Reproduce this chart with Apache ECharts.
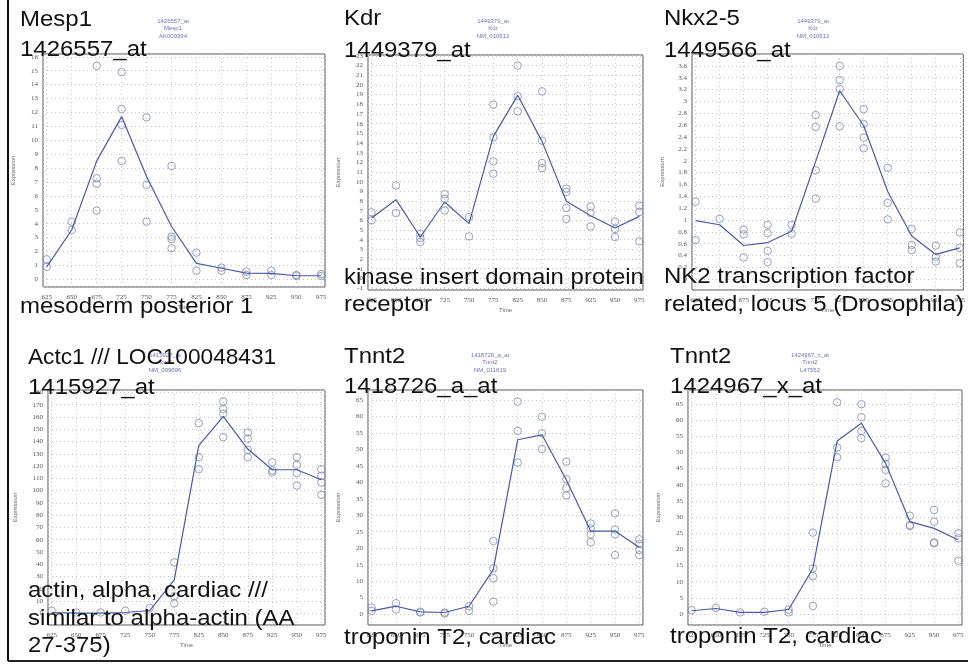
<!DOCTYPE html>
<html><head><meta charset="utf-8">
<script src="https://cdn.jsdelivr.net/npm/echarts@6/dist/echarts.min.js"></script>
<style>html,body{margin:0;padding:0;background:#fff}#c{width:968px;height:665px}</style>
</head><body><div id="c"></div><script>
// ---- data ----
const times = ['625','650','675','725','750','775','825','850','875','925','950','975'];

const mesp1Mean = [0.9, 3.55, 8.5, 11.7, 7.4, 3.8, 1.15, 0.8, 0.45, 0.43, 0.26, 0.26];
const mesp1Reps = [[1.44,0.9],[4.15,3.55],[15.35,7.27,6.86,4.94],[14.9,12.25,11.1,8.51],[11.65,6.79,4.15],[8.15,3.07,2.88,2.23],[1.92,0.62],[0.84,0.62],[0.55,0.31],[0.62,0.31],[0.31,0.24],[0.38,0.24]];

const kdrMean = [6.24, 8.14, 4.28, 7.9, 5.66, 14.69, 18.93, 14.17, 7.97, 6.48, 5.21, 6.41];
const kdrReps = [[6.83,6.0],[9.62,6.76],[4.62,4.17,3.76],[8.72,8.24,7.03],[6.34,4.34],[17.97,14.59,12.1,10.83],[22.0,18.83,17.28],[19.34,14.24,11.93,11.41],[9.28,8.93,7.28,6.14],[7.45,6.76,5.38],[5.9,5.1,4.28],[7.52,6.86,3.83]];

const nkxMean = [0.99, 0.92, 0.57, 0.62, 0.81, 1.99, 3.18, 2.59, 1.48, 0.73, 0.42, 0.53];
const nkxReps = [[1.31,0.66],[1.02],[0.84,0.76,0.37],[0.92,0.78,0.48,0.29],[0.92,0.77],[2.77,2.57,1.84,1.36],[3.6,3.36,3.21,2.58],[2.87,2.62,2.39,2.21],[1.88,1.29,1.01],[0.85,0.58,0.49],[0.57,0.38,0.3],[0.79,0.53,0.27]];

const actcMean = [0.7, 0.2, 0.2, 0.7, 2.3, 27.3, 136.6, 160.5, 133.9, 117, 117, 108.9];
const actcReps = [[2.1],[0.7],[0.7],[2.1],[4.3],[41.5,14,8],[155,127.3,117.5],[172.7,166.5,162.7,143.6],[147.4,142.3,133.3,127.3],[123,116.5,114.8],[127.3,121,114.3,104.2],[117.5,112,106.7,96.6]];

const tnntAMean = [1.0, 2.4, 0.7, 0.5, 2.4, 13.6, 52.9, 54.4, 40.7, 25.2, 25.2, 20.2];
const tnntAReps = [[2.0,1.0],[3.3,1.4],[0.7,0.5],[0.5,0.2],[2.4,1.0],[22.2,13.9,10.9,3.8],[64.5,55.6,46.0],[59.9,54.9,50.1],[46.3,40.9,38.2,36.0],[27.5,26.0,24.2,21.8],[30.6,25.7,24.2,17.9],[22.7,21.3,19.5,17.9]];

const tnntXMean = [1.0, 1.7, 0.5, 0.5, 1.4, 14.1, 53.5, 59.0, 46.6, 28.6, 26.5, 22.9];
const tnntXReps = [[1.2],[1.9],[0.5],[0.7],[1.4,0.5],[25.2,14.1,11.7,2.5],[65.5,51.5,48.5],[64.9,60.9,56.6,54.4],[48.4,46.4,44.6,40.4],[30.4,27.5,27.2],[32.2,28.6,22.1,21.9],[25.0,23.4,16.5]];

const topTitles = [['Mesp1','1426557_at'],['Kdr','1449379_at'],['Nkx2-5','1449566_at'],
                   ['Actc1 /// LOC100048431','1415927_at'],['Tnnt2','1418726_a_at'],['Tnnt2','1424967_x_at']];
const bottomTitles = [['mesoderm posterior 1'],['kinase insert domain protein','receptor'],
                      ['NK2 transcription factor','related, locus 5 (Drosophila)'],
                      ['actin, alpha, cardiac ///','similar to alpha-actin (AA','27-375)'],
                      ['troponin T2, cardiac'],['troponin T2, cardiac']];
const headers = [['1426557_at','Mesp1','AK009394'],['1449379_at','Kdr','NM_010612'],['1449379_at','Kdr','NM_010612'],
                 ['1415927_at','Actc1','NM_009606'],['1418726_a_at','Tnnt2','NM_011619'],['1424967_x_at','Tnnt2','L47552']];
const yTickStep = [1, 1, 0.2, 10, 5, 5];
const yMin = [-0.55, -1.2, -0.18, -9.5, -3.3, -3.4];
const yMax = [16.2, 23.1, 3.8, 182, 68, 69.3];

const means = [mesp1Mean, kdrMean, nkxMean, actcMean, tnntAMean, tnntXMean];
const reps = [mesp1Reps, kdrReps, nkxReps, actcReps, tnntAReps, tnntXReps];

// ---- layout ----
const grids = [
  {left:43, top:54, width:282, height:233},
  {left:368, top:55, width:275, height:235},
  {left:692, top:54, width:272, height:236},
  {left:48, top:390, width:277, height:235},
  {left:368, top:390, width:275, height:235},
  {left:688, top:390, width:274, height:235}
];
const titleX = [20, 344, 664, 28, 344, 670];
const topBase = [[28,58],[27,59],[27,59],[366,396],[365,395],[365,395]];
const botBase = [[315],[286,313],[285,313],[599,627,654],[646],[645]];
const headerPos = [[173,21],[493,21],[813,21],[165,355],[490,355],[810,355]];

const FONT = "'Liberation Sans', Arial, sans-serif";
const xAxes = [], yAxes = [], series = [], graphics = [];

function bigText(t, x, yBase, sx) {
  return {type:'text', x:x, y:yBase-8, scaleX:sx, z:10,
    style:{text:t, font:`22px ${FONT}`, fill:'#111', verticalAlign:'middle'}};
}

grids.forEach((g, k) => {
  g.show = true; g.borderColor = '#555'; g.borderWidth = 1; g.backgroundColor = 'transparent';
  xAxes.push({
    type:'value', gridIndex:k, min:-0.15, max:11.15, minInterval:1, maxInterval:1,
    name:'Time', nameLocation:'middle', nameGap:17,
    nameTextStyle:{fontSize:6, color:'#666', fontFamily:FONT},
    axisLine:{show:false}, axisTick:{show:false},
    axisLabel:{fontSize:7, color:'#555', margin:7, fontFamily:"'Liberation Serif', serif",
      showMinLabel:false, showMaxLabel:false,
      formatter: v => (Number.isInteger(v) && times[v]) ? times[v] : ''},
    splitLine:{show:true, lineStyle:{color:'#c4c4c4', type:[1,3], width:1}}
  });
  yAxes.push({
    type:'value', gridIndex:k, min:yMin[k], max:yMax[k],
    minInterval:yTickStep[k], maxInterval:yTickStep[k], splitNumber:20,
    name:'Expression', nameLocation:'middle', nameGap: k===3 ? 30 : 27,
    nameTextStyle:{fontSize:6, color:'#666', fontFamily:FONT},
    axisLine:{show:false}, axisTick:{show:false},
    axisLabel:{fontSize:7, color:'#555', margin:5, fontFamily:"'Liberation Serif', serif",
      showMinLabel:false, showMaxLabel:false},
    splitLine:{show:true, lineStyle:{color:'#c4c4c4', type:[1,3], width:1}}
  });
  const pts = [];
  reps[k].forEach((arr, i) => arr.forEach(v => pts.push([i, v])));
  series.push({
    type:'scatter', xAxisIndex:k, yAxisIndex:k, data:pts, symbol:'circle', symbolSize:7.5,
    itemStyle:{color:'rgba(0,0,0,0)', borderColor:'#7f88b0', borderWidth:1}, z:2
  });
  series.push({
    type:'line', xAxisIndex:k, yAxisIndex:k, data:means[k].map((v,i)=>[i,v]),
    showSymbol:false, lineStyle:{color:'#4a59a6', width:1.2}, z:3
  });
  topTitles[k].forEach((t, j) => graphics.push(bigText(t, titleX[k], topBase[k][j], (k===3 && j===0) ? 1.03 : 1.09)));
  bottomTitles[k].forEach((t, j) => graphics.push(bigText(t, titleX[k], botBase[k][j], 1.09)));
  headers[k].forEach((t, j) => graphics.push({type:'text', x:headerPos[k][0], y:headerPos[k][1]+j*7.5, z:5,
    style:{text:t, font:`6px ${FONT}`, fill:'#6a74b8', align:'center', verticalAlign:'middle'}}));
});

graphics.push({type:'line', shape:{x1:8, y1:0, x2:8, y2:661}, style:{stroke:'#111', lineWidth:2}, z:20});
graphics.push({type:'line', shape:{x1:8, y1:661, x2:968, y2:661}, style:{stroke:'#222', lineWidth:2}, z:20});

const chart = echarts.init(document.getElementById('c'), null, {renderer:'canvas'});
chart.setOption({
  animation:false, backgroundColor:'#fff',
  grid:grids, xAxis:xAxes, yAxis:yAxes, series:series, graphic:graphics
});
</script></body></html>
